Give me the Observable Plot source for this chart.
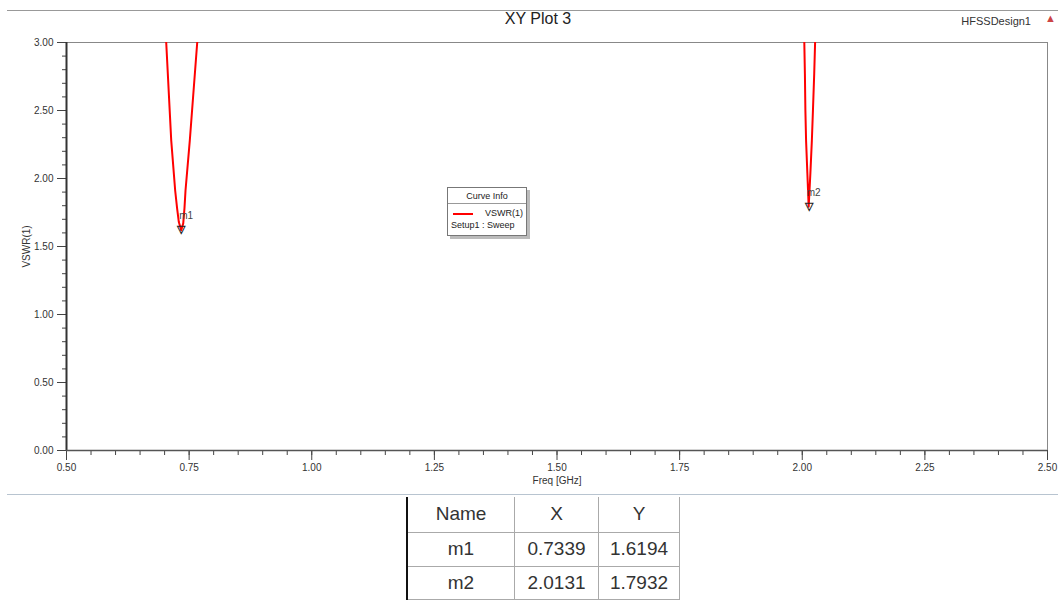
<!DOCTYPE html>
<html>
<head>
<meta charset="utf-8">
<script src="https://cdn.jsdelivr.net/npm/d3@7"></script>
<script src="https://cdn.jsdelivr.net/npm/@observablehq/plot@0.6"></script>
<style>
  html, body { margin: 0; padding: 0; background: #fff; width: 1058px; height: 602px; overflow: hidden; font-family: "Liberation Sans", Arial, sans-serif; }
  #wrap { position: relative; width: 1058px; height: 602px; }
  .hline { position: absolute; height: 0; }
  #title { position: absolute; top: 10px; left: 0; width: 1076px; text-align: center; font-size: 16px; color: #222; }
  #design { position: absolute; top: 15px; right: 27px; font-size: 11px; color: #333; }
  #tri { position: absolute; top: 12px; right: 2px; font-size: 11px; color: #c44; }
  #legend { position: absolute; left: 447px; top: 187px; width: 78px; height: 47px; border: 1px solid #777; background: #fff; box-shadow: 3px 3px 0 #bbb; font-size: 9px; color: #222; }
  #legend .hd { text-align: center; padding-top: 3px; height: 12px; border-bottom: 1px solid #999; }
  #legend .row1 { position: relative; height: 13px; margin-top: 3px; }
  #legend .sw { position: absolute; left: 5px; top: 6px; width: 20px; height: 2px; background: #f00; }
  #legend .nm { position: absolute; right: 3px; top: 1px; }
  #legend .row2 { padding-left: 3px; }
  #tbl { position: absolute; left: 406px; top: 497px; border-collapse: collapse; border-left: 2px solid #111; font-size: 19px; color: #333; }
  #tbl td { border: 1px solid #aaa; text-align: center; padding: 0 3px; }
  #tbl tr:first-child td { border-top: none; }
</style>
</head>
<body>
<div id="wrap">
  <div id="chart"></div>
  <div class="hline" style="left:7px; top:10px; width:1051px; border-top:1px solid #999;"></div>
  <div class="hline" style="left:7px; top:494px; width:1051px; border-top:1px solid #b8c4d0;"></div>
  <div id="title">XY Plot 3</div>
  <div id="design">HFSSDesign1</div>
  <div id="tri">▲</div>
  <div id="legend">
    <div class="hd">Curve Info</div>
    <div class="row1"><div class="sw"></div><div class="nm">VSWR(1)</div></div>
    <div class="row2">Setup1 : Sweep</div>
  </div>
  <table id="tbl"></table>
</div>
<script>
// Curve values (two resonance dips; outside them VSWR > 3 and is clipped)
const dip1Freq = [0.7010, 0.7033, 0.7135, 0.7216, 0.7255, 0.7290, 0.7339, 0.7380, 0.7405, 0.7426, 0.7514, 0.7665, 0.7690];
const dip1Vswr = [3.12, 3.00, 2.28, 1.91, 1.78, 1.68, 1.6194, 1.67, 1.78, 1.91, 2.28, 3.00, 3.12];
const dip2Freq = [2.0030, 2.0042, 2.0054, 2.0064, 2.0078, 2.0104, 2.0131, 2.0166, 2.0196, 2.0218, 2.0244, 2.0262, 2.0272];
const dip2Vswr = [3.12, 3.00, 2.77, 2.50, 2.28, 2.04, 1.7932, 2.04, 2.28, 2.50, 2.77, 3.00, 3.12];

// Markers
const markerNames = ["m1", "m2"];
const markerX = [0.7339, 2.0131];
const markerY = [1.6194, 1.7932];

// Axis ticks
const xTickValues = [0.50, 0.75, 1.00, 1.25, 1.50, 1.75, 2.00, 2.25, 2.50];
const xTickLabels = ["0.50", "0.75", "1.00", "1.25", "1.50", "1.75", "2.00", "2.25", "2.50"];
const yTickValues = [0.00, 0.50, 1.00, 1.50, 2.00, 2.50, 3.00];
const yTickLabels = ["0.00", "0.50", "1.00", "1.50", "2.00", "2.50", "3.00"];
const xMinor = d3.range(0, 41).map(i => 0.5 + i * 0.05);
const yMinor = d3.range(0, 31).map(i => i * 0.1);

const curve = [
  ...dip1Freq.map((f, i) => ({seg: "a", f, v: dip1Vswr[i]})),
  ...dip2Freq.map((f, i) => ({seg: "b", f, v: dip2Vswr[i]}))
];
const markers = markerNames.map((n, i) => ({n, x: markerX[i], y: markerY[i]}));

const fmtX = d => xTickLabels[xTickValues.indexOf(d)];
const fmtY = d => yTickLabels[yTickValues.indexOf(d)];

const chart = Plot.plot({
  width: 1058,
  height: 495,
  marginLeft: 66,
  marginRight: 11,
  marginTop: 42,
  marginBottom: 45,
  style: {fontFamily: "Liberation Sans, Arial, sans-serif", fontSize: "10px", color: "#444", background: "transparent"},
  x: {domain: [0.5, 2.5]},
  y: {domain: [0, 3]},
  marks: [
    Plot.frame({stroke: "#888"}),
    Plot.axisX({ticks: xMinor, tickSize: 5, text: null, label: null, stroke: "#444"}),
    Plot.axisX({ticks: xTickValues, tickSize: 10, tickFormat: fmtX, tickPadding: 3, fill: "#333",
      label: "Freq [GHz]", labelAnchor: "center", labelArrow: "none", labelOffset: 33, stroke: "#444"}),
    Plot.axisY({ticks: yMinor, tickSize: 4, text: null, label: null, stroke: "#444"}),
    Plot.axisY({ticks: yTickValues, tickSize: 9, tickFormat: fmtY, tickPadding: 4, fill: "#333",
      label: "VSWR(1)", labelAnchor: "center", labelArrow: "none", labelOffset: 44, stroke: "#444"}),
    Plot.ruleX([0.5], {stroke: "#333", strokeWidth: 2}),
    Plot.ruleY([0], {stroke: "#555", strokeWidth: 1.5}),
    Plot.line(curve, {x: "f", y: "v", z: "seg", stroke: "#ff0000", strokeWidth: 2, clip: true}),
    Plot.text(markers, {x: "x", y: "y", text: () => "▽", lineAnchor: "bottom", dy: 3, fontSize: 11, fill: "#222", fontWeight: "bold"}),
    Plot.text(markers, {x: "x", y: "y", text: "n", textAnchor: "start", dx: -2, dy: -14, fontSize: 10, fill: "#444"})
  ]
});
document.getElementById("chart").appendChild(chart);

// Marker table
const tableHeader = ["Name", "X", "Y"];
const colWidths = [100, 77, 74];
const rowHeights = [35, 34, 33];
const tbl = document.getElementById("tbl");
const rows = [tableHeader, ...markerNames.map((n, i) => [n, markerX[i].toFixed(4), markerY[i].toFixed(4)])];
rows.forEach((r, ri) => {
  const tr = document.createElement("tr");
  tr.style.height = rowHeights[ri] + "px";
  r.forEach((c, ci) => {
    const td = document.createElement("td");
    td.textContent = c;
    td.style.width = colWidths[ci] + "px";
    tr.appendChild(td);
  });
  tbl.appendChild(tr);
});
</script>
</body>
</html>
